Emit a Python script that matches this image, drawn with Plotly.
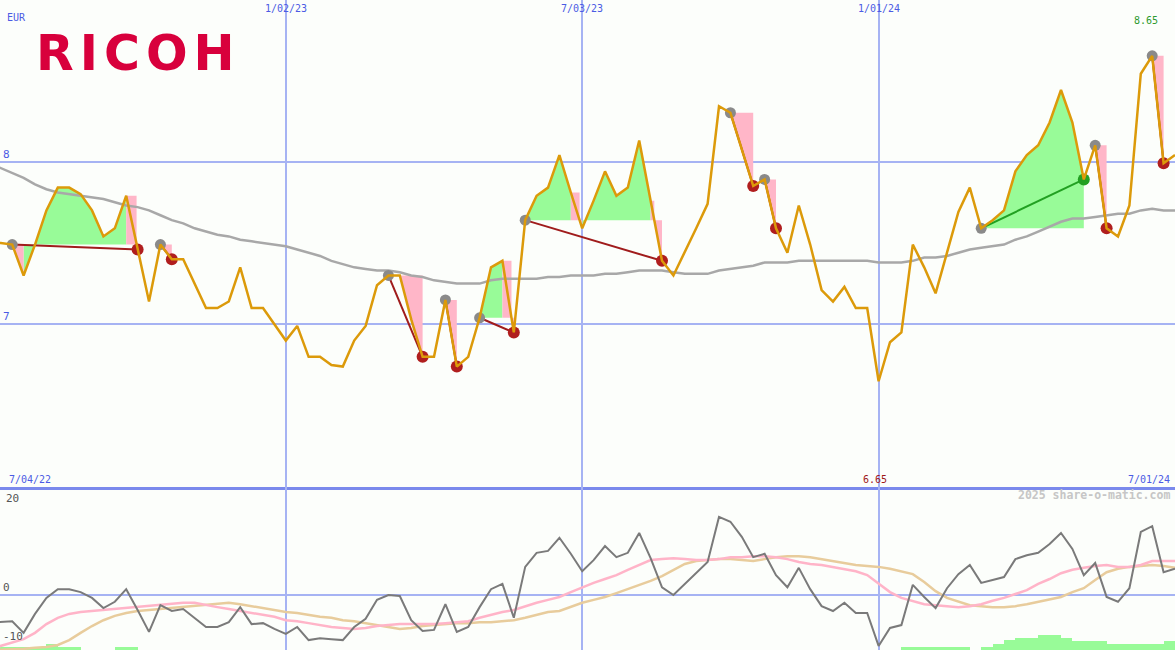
import pandas as pd
import plotly.graph_objects as go

# ---------------- data (weekly) ----------------
dates = pd.date_range("2022-07-04", periods=105, freq="7D")

price = [7.50,
         7.50, 7.49, 7.30, 7.49, 7.70, 7.84, 7.84, 7.80, 7.70, 7.54,
         7.59, 7.79, 7.46, 7.14, 7.49, 7.40, 7.40, 7.25, 7.10, 7.10,
         7.14, 7.35, 7.10, 7.10, 7.00, 6.90, 6.99, 6.80, 6.80, 6.75,
         6.74, 6.90, 6.99, 7.24, 7.30, 7.30, 7.03, 6.80, 6.80, 7.15,
         6.74, 6.80, 7.04, 7.35, 7.39, 6.95, 7.64, 7.79, 7.84, 8.04,
         7.81, 7.59, 7.76, 7.94, 7.79, 7.84, 8.13, 7.76, 7.39, 7.30,
         7.44, 7.59, 7.74, 8.34, 8.30, 8.07, 7.85, 7.89, 7.59, 7.44,
         7.73, 7.49, 7.21, 7.14, 7.23, 7.10, 7.10, 6.65, 6.89, 6.95,
         7.49, 7.35, 7.19, 7.44, 7.69, 7.84, 7.59, 7.64, 7.70, 7.94,
         8.04, 8.10, 8.24, 8.44, 8.24, 7.89, 8.10, 7.59, 7.54, 7.73,
         8.54, 8.65, 7.99, 8.04]

moving_avg = [7.99,
              7.96, 7.93, 7.90, 7.86, 7.83, 7.81, 7.80, 7.79, 7.78, 7.77,
              7.75, 7.73, 7.72, 7.70, 7.67, 7.64, 7.62, 7.59, 7.57, 7.55,
              7.54, 7.52, 7.51, 7.50, 7.49, 7.48, 7.46, 7.44, 7.42, 7.39,
              7.37, 7.35, 7.34, 7.33, 7.33, 7.32, 7.30, 7.29, 7.27, 7.26,
              7.25, 7.25, 7.25, 7.27, 7.28, 7.28, 7.28, 7.28, 7.29, 7.29,
              7.30, 7.30, 7.30, 7.31, 7.31, 7.32, 7.33, 7.33, 7.33, 7.32,
              7.31, 7.31, 7.31, 7.33, 7.34, 7.35, 7.36, 7.38, 7.38, 7.38,
              7.39, 7.39, 7.39, 7.39, 7.39, 7.39, 7.39, 7.38, 7.38, 7.38,
              7.39, 7.41, 7.41, 7.42, 7.44, 7.46, 7.47, 7.48, 7.49, 7.52,
              7.54, 7.57, 7.60, 7.63, 7.65, 7.65, 7.66, 7.67, 7.68, 7.68,
              7.70, 7.71, 7.70, 7.70]

momentum = [-5.7,
            -5.6, -5.4, -7.8, -3.9, -0.6, 1.2, 1.2, 0.6, -0.6, -2.7,
            -1.4, 1.2, -3.1, -7.6, -2.1, -3.3, -2.9, -4.7, -6.6, -6.6,
            -5.6, -2.5, -6.0, -5.8, -7.0, -8.0, -6.6, -9.3, -8.9, -9.1,
            -9.3, -6.6, -4.9, -1.0, 0.0, -0.2, -5.2, -7.4, -7.2, -1.9,
            -7.6, -6.6, -2.5, 1.2, 2.3, -4.7, 5.8, 8.7, 9.1, 11.8,
            8.5, 4.9, 7.2, 10.1, 7.8, 8.7, 12.8, 7.6, 1.6, 0.0,
            2.3, 4.5, 6.8, 16.1, 15.1, 12.0, 7.8, 8.5, 4.1, 1.6,
            5.6, 1.2, -2.3, -3.3, -1.6, -3.7, -3.7, -10.5, -6.8, -6.2,
            2.1, -0.4, -2.7, 1.4, 4.3, 6.2, 2.5, 3.1, 3.7, 7.4,
            8.2, 8.7, 10.5, 12.8, 9.5, 4.1, 6.6, -0.4, -1.4, 1.4,
            13.0, 14.2, 4.7, 5.4]

signal_fast = [-11.2,
               -10.5, -9.9, -9.1, -7.8, -6.0, -4.7, -3.9, -3.5, -3.3, -3.1,
               -2.9, -2.7, -2.5, -2.3, -2.1, -1.9, -1.6, -1.6, -2.1, -2.5,
               -2.9, -3.3, -3.7, -4.1, -4.5, -5.2, -5.4, -5.8, -6.2, -6.6,
               -6.8, -7.0, -6.8, -6.4, -6.2, -6.0, -6.0, -6.0, -6.0, -5.8,
               -5.6, -5.4, -4.7, -4.1, -3.5, -3.1, -2.3, -1.6, -1.0, -0.4,
               0.6, 1.6, 2.5, 3.3, 4.1, 5.2, 6.2, 7.2, 7.4, 7.6,
               7.4, 7.2, 7.2, 7.4, 7.8, 7.8, 8.0, 8.0, 7.8, 7.4,
               6.8, 6.4, 6.2, 5.8, 5.4, 4.9, 4.1, 2.3, 0.6, -0.6,
               -1.2, -1.9, -2.1, -2.3, -2.5, -2.3, -1.9, -1.2, -0.6, 0.2,
               1.0, 2.3, 3.3, 4.5, 5.2, 5.6, 6.0, 6.2, 5.8, 5.8,
               6.2, 7.0, 7.0, 7.0]

signal_slow = [-11.4,
               -11.3, -11.3, -11.1, -10.9, -10.7, -10.3, -9.3, -7.8, -6.4, -5.2,
               -4.3, -3.7, -3.3, -3.1, -2.9, -2.7, -2.5, -2.3, -2.1, -1.9,
               -1.6, -1.9, -2.3, -2.7, -3.1, -3.5, -3.7, -4.1, -4.5, -4.7,
               -5.2, -5.4, -5.8, -6.2, -6.6, -7.0, -6.8, -6.4, -6.2, -6.0,
               -5.8, -5.8, -5.6, -5.6, -5.4, -5.2, -4.7, -4.1, -3.5, -3.3,
               -2.5, -1.6, -1.0, -0.4, 0.4, 1.2, 2.1, 2.9, 3.9, 5.2,
               6.4, 7.0, 7.2, 7.4, 7.4, 7.2, 7.0, 7.4, 7.8, 8.0,
               8.0, 7.8, 7.4, 7.0, 6.6, 6.2, 6.0, 5.8, 5.4, 4.9,
               4.3, 2.7, 0.8, -0.6, -1.4, -2.1, -2.3, -2.5, -2.5, -2.3,
               -1.9, -1.4, -1.0, -0.4, 0.6, 1.4, 3.1, 4.7, 5.4, 5.8,
               6.0, 6.2, 6.0, 5.6]

bars = [1,
        1, 1, 1, 1, 2, 1, 1, 0, 0, 0,
        1, 1, 0, 0, 0, 0, 0, 0, 0, 0,
        0, 0, 0, 0, 0, 0, 0, 0, 0, 0,
        0, 0, 0, 0, 0, 0, 0, 0, 0, 0,
        0, 0, 0, 0, 0, 0, 0, 0, 0, 0,
        0, 0, 0, 0, 0, 0, 0, 0, 0, 0,
        0, 0, 0, 0, 0, 0, 0, 0, 0, 0,
        0, 0, 0, 0, 0, 0, 0, 0, 0, 1,
        1, 1, 1, 1, 1, 0, 1, 2, 3.3, 4,
        4, 5, 5, 4, 3, 3, 3, 2, 2, 2,
        2, 2, 3, 3]

# trade signals: positions in the weekly series
sig_start = [2, 15, 35, 40, 43, 47, 65, 68, 87, 97, 102]
sig_end = [13, 16, 38, 41, 46, 59, 67, 69, 96, 98, 103]

grid_dates = ["2023-01-02", "2023-07-03", "2024-01-01"]
grid_labels = ["1/02/23", "7/03/23", "1/01/24"]
x_range = ["2022-07-10 12:00", "2024-07-01 00:00"]

# ---------------- styling ----------------
BG = "#fcfefb"
GRID = "#a6b3f3"
BLUE_TXT = "#4b5be4"
MONO = "DejaVu Sans Mono"
H = 650
split = 163 / H

# ---------------- fill polygons ----------------
green_x, green_y, pink_x, pink_y = [], [], [], []


def add(poly_x, poly_y, target_x, target_y):
    target_x.extend(list(poly_x) + [None])
    target_y.extend(list(poly_y) + [None])


for s, e in zip(sig_start, sig_end):
    L = price[s]
    for i in range(s, e):
        a, b = price[i], price[i + 1]
        x0, x1 = dates[i], dates[i + 1]
        if (a - L) * (b - L) >= 0:
            px, py = [x0, x0, x1, x1], [L, a, b, L]
            if a >= L and b >= L:
                add(px, py, green_x, green_y)
            elif b > a:
                add(px, py, green_x, green_y)
            else:
                add(px, py, pink_x, pink_y)
        else:
            xc = x0 + (x1 - x0) * ((a - L) / (a - b))
            if a > L:
                add([x0, x0, xc, xc], [L, a, a, L], pink_x, pink_y)
                add([xc, x1, x1], [L, b, L], pink_x, pink_y)
            else:
                add([x0, x0, xc], [L, a, L], green_x, green_y)
                add([xc, x1, x1], [L, b, L], green_x, green_y)

fig = go.Figure()

fig.add_trace(go.Scatter(x=green_x, y=green_y, mode="lines", fill="toself",
                         fillcolor="#98fb98", line=dict(width=0, color="#98fb98"),
                         hoverinfo="skip"))
fig.add_trace(go.Scatter(x=pink_x, y=pink_y, mode="lines", fill="toself",
                         fillcolor="#ffb6c8", line=dict(width=0, color="#ffb6c8"),
                         hoverinfo="skip"))

# moving average
fig.add_trace(go.Scatter(x=dates, y=moving_avg, mode="lines",
                         line=dict(color="#a8a8a8", width=2.5)))

# signal connecting lines
loss_x, loss_y, gain_x, gain_y = [], [], [], []
end_loss_x, end_loss_y, end_gain_x, end_gain_y = [], [], [], []
for s, e in zip(sig_start, sig_end):
    if price[e] > price[s]:
        gain_x += [dates[s], dates[e], None]
        gain_y += [price[s], price[e], None]
        end_gain_x.append(dates[e]); end_gain_y.append(price[e])
    else:
        loss_x += [dates[s], dates[e], None]
        loss_y += [price[s], price[e], None]
        end_loss_x.append(dates[e]); end_loss_y.append(price[e])

fig.add_trace(go.Scatter(x=loss_x, y=loss_y, mode="lines",
                         line=dict(color="#a01c1c", width=2)))
fig.add_trace(go.Scatter(x=gain_x, y=gain_y, mode="lines",
                         line=dict(color="#22a022", width=2)))

fig.add_trace(go.Scatter(x=[dates[s] for s in sig_start], y=[price[s] for s in sig_start],
                         mode="markers", marker=dict(color="#8a8a8a", size=11)))
fig.add_trace(go.Scatter(x=end_loss_x, y=end_loss_y, mode="markers",
                         marker=dict(color="#b01e1e", size=12)))
fig.add_trace(go.Scatter(x=end_gain_x, y=end_gain_y, mode="markers",
                         marker=dict(color="#22a022", size=12)))

# price line
fig.add_trace(go.Scatter(x=dates, y=price, mode="lines",
                         line=dict(color="#dc9a0a", width=2.5)))

# ---------------- lower panel ----------------
fig.add_trace(go.Bar(x=dates, y=bars, xaxis="x2", yaxis="y2",
                     marker=dict(color="#98fb98", line=dict(width=0)),
                     offset=0, width=7 * 24 * 3600 * 1000))
fig.add_trace(go.Scatter(x=dates, y=signal_slow, xaxis="x2", yaxis="y3", mode="lines",
                         line=dict(color="#e8cc9c", width=2.5)))
fig.add_trace(go.Scatter(x=dates, y=signal_fast, xaxis="x2", yaxis="y3", mode="lines",
                         line=dict(color="#ffb4c8", width=2.5)))
fig.add_trace(go.Scatter(x=dates, y=momentum, xaxis="x2", yaxis="y3", mode="lines",
                         line=dict(color="#7a7a7a", width=2)))

fig.update_layout(
    width=1175, height=H,
    margin=dict(l=0, r=0, t=0, b=0),
    paper_bgcolor=BG, plot_bgcolor=BG,
    showlegend=False,
    bargap=0,
    xaxis=dict(domain=[0, 1], anchor="y", type="date", range=x_range,
               tickvals=grid_dates, showticklabels=False, ticks="",
               showgrid=True, gridcolor=GRID, gridwidth=1.5,
               showline=True, linecolor="#7a89ec", linewidth=2.5, zeroline=False),
    xaxis2=dict(domain=[0, 1], anchor="y2", type="date", range=x_range, matches="x",
                tickvals=grid_dates, showticklabels=False, ticks="",
                showgrid=True, gridcolor=GRID, gridwidth=1.5, zeroline=False),
    yaxis=dict(domain=[split, 1], anchor="x", range=[6.0, 8.993],
               tickvals=[7, 8], ticktext=["7", "8"],
               ticklabelposition="inside top", ticks="",
               tickfont=dict(family=MONO, size=11, color=BLUE_TXT),
               showgrid=True, gridcolor=GRID, gridwidth=2, zeroline=False),
    yaxis2=dict(domain=[0, split], anchor="x2", range=[0, 54.33],
                visible=False, showgrid=False, zeroline=False),
    yaxis3=dict(overlaying="y2", anchor="x2", range=[-11.34, 22.27],
                tickvals=[-10, 0], ticktext=["-10", "0"],
                ticklabelposition="inside top", ticks="",
                tickfont=dict(family=MONO, size=11, color="#555555"),
                showgrid=False, zeroline=True, zerolinecolor=GRID, zerolinewidth=2),
)


def ypx(p):
    return 1 - p / H


ann = []
ann.append(dict(x=5 / 1175, y=ypx(18), xref="paper", yref="paper", xanchor="left",
                yanchor="middle", text="EUR", showarrow=False,
                font=dict(family=MONO, size=10, color=BLUE_TXT)))
ann.append(dict(x=34 / 1175, y=ypx(53), xref="paper", yref="paper", xanchor="left",
                yanchor="middle",
                text="<span style='letter-spacing:6px'><b>RICOH</b></span>",
                showarrow=False,
                font=dict(family="DejaVu Sans", size=49, color="#d8003c")))
ann.append(dict(x=4 / 1175, y=20, xref="paper", yref="y3", xanchor="left",
                yanchor="middle", text="20", showarrow=False,
                font=dict(family=MONO, size=11, color="#555555")))
for d, t in zip(grid_dates, grid_labels):
    ann.append(dict(x=d, y=ypx(8), xref="x", yref="paper", xanchor="center",
                    yanchor="middle", text=t, showarrow=False,
                    font=dict(family=MONO, size=10, color=BLUE_TXT)))
imax = price.index(max(price))
imin = price.index(min(price))
ann.append(dict(x=dates[imax], y=ypx(20), xref="x", yref="paper", xanchor="center",
                yanchor="middle", xshift=-6, text=f"{max(price):.2f}", showarrow=False,
                font=dict(family=MONO, size=10, color="#2e9a2e")))
ann.append(dict(x=dates[imin], y=ypx(479), xref="x", yref="paper", xanchor="center",
                yanchor="middle", xshift=-4, text=f"{min(price):.2f}", showarrow=False,
                font=dict(family=MONO, size=10, color="#a01818")))
ann.append(dict(x=7 / 1175, y=ypx(479), xref="paper", yref="paper", xanchor="left",
                yanchor="middle", text="7/04/22", showarrow=False,
                font=dict(family=MONO, size=10, color=BLUE_TXT)))
ann.append(dict(x=1172 / 1175, y=ypx(479), xref="paper", yref="paper", xanchor="right",
                yanchor="middle", text="7/01/24", showarrow=False,
                font=dict(family=MONO, size=10, color=BLUE_TXT)))
ann.append(dict(x=1172 / 1175, y=ypx(495), xref="paper", yref="paper", xanchor="right",
                yanchor="middle", text="<b>2025 share-o-matic.com</b>", showarrow=False,
                font=dict(family=MONO, size=11.5, color="#c6c6c6")))
fig.update_layout(annotations=ann)

fig.write_html("out.html", config={"displayModeBar": False},
               post_script="document.body.style.margin='0';document.body.style.overflow='hidden';")
